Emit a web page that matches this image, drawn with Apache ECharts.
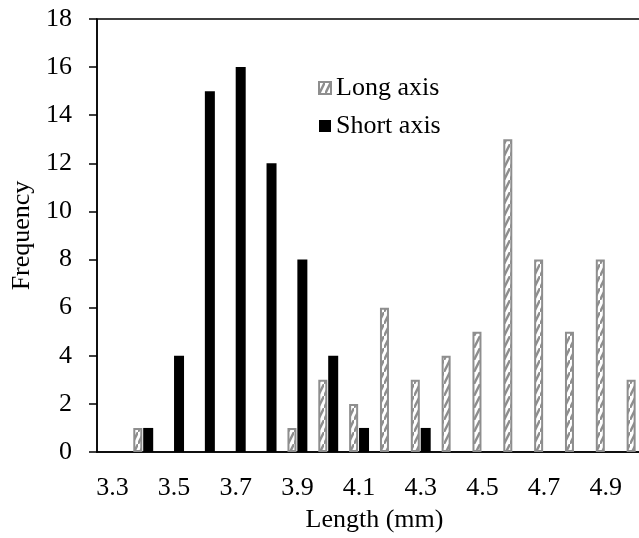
<!DOCTYPE html>
<html>
<head>
<meta charset="utf-8">
<script src="https://cdn.jsdelivr.net/npm/echarts@6/dist/echarts.min.js"></script>
<style>
  html, body { margin: 0; padding: 0; background: #fff; overflow: hidden; }
  /* plot runs past the right edge of the window, as in the original crop */
  #chart { width: 660px; height: 538px; }
</style>
</head>
<body>
<div id="chart"></div>
<script>
// bin labels (mm)
const categories = ['3.3', '3.4', '3.5', '3.6', '3.7', '3.8', '3.9', '4.0', '4.1',
  '4.2', '4.3', '4.4', '4.5', '4.6', '4.7', '4.8', '4.9', '5.0']
const longAxis = [0, 1, 0, 0, 0, 0, 1, 3, 2, 6, 3, 4, 5, 13, 8, 5, 8, 3]
const shortAxis = [0, 1, 4, 15, 16, 12, 8, 4, 1, 0, 1, 0, 0, 0, 0, 0, 0, 0]
const yTicks = [0, 2, 4, 6, 8, 10, 12, 14, 16, 18]

const font = 'Liberation Serif'
const grey = '#8e8e8e'
const fs = 26

// diagonal hatch for the long-axis bars
const makeHatch = () => {
  const c = document.createElement('canvas')
  c.width = 6
  c.height = 12
  const ctx = c.getContext('2d')
  ctx.fillStyle = '#fff'
  ctx.fillRect(0, 0, 6, 12)
  ctx.strokeStyle = grey
  ctx.lineWidth = 2.5
  ctx.beginPath()
  ctx.moveTo(-1, 14)
  ctx.lineTo(7, -2)
  ctx.stroke()
  return c
}

// zero bins are not drawn
const bars = arr => arr.map(v => (v === 0 ? '-' : v))

const chart = echarts.init(document.getElementById('chart'))
chart.setOption({
  animation: false,
  textStyle: { fontFamily: font, color: '#000' },
  grid: {
    left: 97, top: 19, bottom: 82, right: 8,
    show: true, borderColor: '#000', borderWidth: 1.5, backgroundColor: 'transparent'
  },
  legend: {
    orient: 'vertical',
    left: 313, top: 70,
    itemGap: 12,
    itemWidth: 12, itemHeight: 12,
    textStyle: { fontFamily: font, fontSize: fs, color: '#000' },
    data: [
      { name: 'Long axis', icon: 'rect' },
      { name: 'Short axis', icon: 'rect' }
    ]
  },
  xAxis: {
    type: 'category',
    data: categories,
    boundaryGap: true,
    name: 'Length (mm)',
    nameLocation: 'middle',
    nameGap: 55,
    nameTextStyle: { fontFamily: font, fontSize: fs, color: '#000' },
    axisLine: { lineStyle: { color: '#000', width: 1.5 } },
    axisTick: { interval: 1, length: 8, lineStyle: { color: '#000', width: 1.5 } },
    axisLabel: { interval: 1, fontFamily: font, fontSize: fs, color: '#000', margin: 23 },
    splitLine: { show: false }
  },
  yAxis: {
    type: 'value',
    min: yTicks[0],
    max: yTicks[yTicks.length - 1],
    interval: 2,
    name: 'Frequency',
    nameLocation: 'middle',
    nameGap: 61,
    nameTextStyle: { fontFamily: font, fontSize: fs, color: '#000' },
    axisLine: { show: true, lineStyle: { color: '#000', width: 1.5 } },
    axisTick: { show: true, length: 8, lineStyle: { color: '#000', width: 1.5 } },
    axisLabel: { fontFamily: font, fontSize: fs, color: '#000', margin: 25 },
    splitLine: { show: false }
  },
  series: [
    {
      name: 'Long axis',
      type: 'bar',
      data: bars(longAxis),
      barWidth: 9,
      barGap: '10%',
      itemStyle: {
        color: { image: makeHatch(), repeat: 'repeat' },
        borderColor: grey,
        borderWidth: 2
      }
    },
    {
      name: 'Short axis',
      type: 'bar',
      data: bars(shortAxis),
      barWidth: 10,
      itemStyle: { color: '#000' }
    }
  ]
})
</script>
</body>
</html>
